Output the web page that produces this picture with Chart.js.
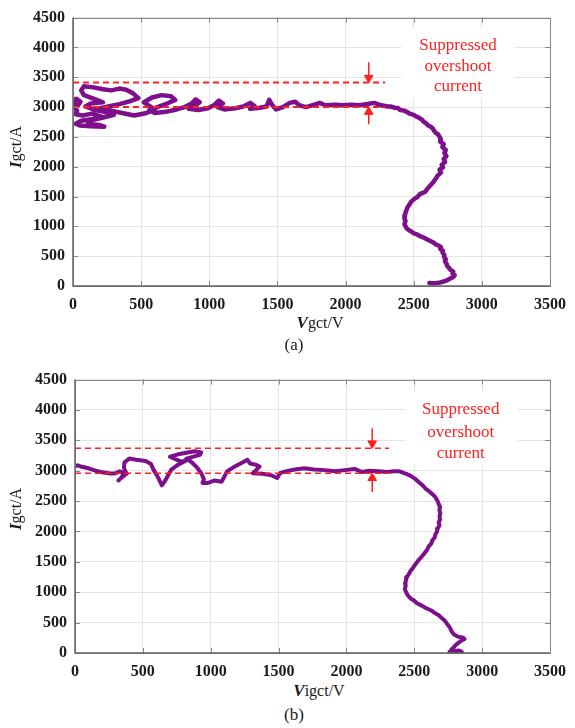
<!DOCTYPE html>
<html>
<head>
<meta charset="utf-8">
<script src="https://cdn.jsdelivr.net/npm/chart.js@4.4.1/dist/chart.umd.min.js"></script>
<style>
  body { margin: 0; background: #fff; }
  #wrap { position: relative; width: 575px; height: 728px; overflow: hidden; font-family: 'Liberation Serif', 'Times New Roman', serif; color: #1a1a1a; }
  canvas { position: absolute; left: 0; }
  .t { position: absolute; transform: translate(-50%, -50%); white-space: nowrap; font-size: 16px; }
  .t b { font-style: italic; font-size: 17px; }
  .rot { transform: translate(-50%, -50%) rotate(-90deg); }
  .cap { font-size: 17px; }
</style>
</head>
<body>
<div id="wrap">
  <canvas id="chartA" width="575" height="315" style="top:0"></canvas>
  <canvas id="chartB" width="575" height="315" style="top:362px"></canvas>

  <div class="t rot" style="left:16px;top:147px"><b>I</b>gct/A</div>
  <div class="t" style="left:320px;top:323px"><b>V</b>gct/V</div>
  <div class="t cap" style="left:294px;top:345px">(a)</div>

  <div class="t rot" style="left:16px;top:509px"><b>I</b>gct/A</div>
  <div class="t" style="left:319px;top:691px"><b>V</b>igct/V</div>
  <div class="t cap" style="left:294px;top:715px">(b)</div>
</div>

<script>
// axis ticks
const vTicks = [0, 500, 1000, 1500, 2000, 2500, 3000, 3500];
const iTicks = [0, 500, 1000, 1500, 2000, 2500, 3000, 3500, 4000, 4500];

// (a) trajectory
const aV = [15, 5, 25, 55, 35, 10, 30, 20, 70, 140, 210, 150, 60, 20, 50, 130, 230, 190, 110, 140,
  230, 300, 230, 150, 90, 130, 220, 150, 80, 60, 80, 150, 220, 280, 340, 390, 440, 480, 420, 340,
  260, 200, 280, 360, 450, 540, 600, 560, 520, 580, 650, 720, 750, 690, 620, 560, 600, 680, 760, 820,
  870, 900, 930, 880, 850, 920, 990, 1040, 1070, 1100, 1060, 1110, 1190, 1250, 1300, 1330, 1300, 1370, 1420, 1440,
  1460, 1490, 1540, 1590, 1630, 1660, 1710, 1770, 1810, 1850, 1920, 1980, 2040, 2100, 2160, 2210, 2260, 2310,
  2330, 2360, 2385, 2400, 2430, 2450, 2470, 2500, 2520, 2540,
  2560, 2575, 2590, 2600, 2625, 2640, 2650, 2660, 2680, 2690,
  2700, 2695, 2720, 2710, 2735, 2725, 2740, 2720, 2730, 2705,
  2715, 2690, 2700, 2675, 2665, 2650, 2635, 2615, 2600, 2585,
  2545, 2530, 2505, 2480, 2470, 2455, 2448, 2440, 2436, 2432,
  2440, 2432, 2440, 2450, 2470, 2492, 2505, 2528, 2550, 2575,
  2600, 2618, 2645, 2660, 2680, 2700, 2695, 2715, 2712, 2725,
  2722, 2735, 2730, 2742, 2745, 2760, 2770, 2790, 2785, 2800,
  2790, 2765, 2745, 2725, 2710, 2695, 2680, 2660, 2640, 2625, 2615];
const aI = [3060, 3110, 3140, 3090, 3020, 2990, 2940, 2880, 2860, 2890, 2840, 2800, 2770, 2720, 2690, 2680, 2670, 2700, 2720, 2780,
  2830, 2870, 2920, 2960, 3010, 3060, 3080, 3140, 3200, 3280, 3350, 3330, 3300, 3280, 3310, 3290, 3230, 3150, 3100, 3050,
  3010, 2980, 2940, 2900, 2860, 2900, 2960, 3020, 3080, 3160, 3200, 3180, 3120, 3060, 3000, 2950, 2900, 2920, 2960, 3000,
  3060, 3130, 3080, 3010, 2970, 2950, 2980, 3040, 3110, 3060, 3000, 2960, 2980, 3010, 3070, 3020, 2970, 2990, 3010, 3120,
  3040, 2960, 3000, 3070, 3090, 3030, 3000, 3040, 3070, 3030, 3040, 3030, 3040, 3030, 3050, 3070, 3030, 3010,
  3010, 2990, 2985, 2950, 2940, 2920, 2890, 2870, 2840, 2820,
  2790, 2750, 2730, 2700, 2670, 2640, 2600, 2570, 2540, 2500,
  2460, 2420, 2380, 2330, 2280, 2230, 2180, 2130, 2080, 2030,
  1990, 1950, 1900, 1850, 1810, 1760, 1720, 1670, 1630, 1580,
  1540, 1500, 1460, 1410, 1370, 1320, 1280, 1230, 1180, 1130,
  1090, 1040, 1000, 960, 930, 900, 880, 860, 830, 810,
  780, 760, 730, 700, 680, 650, 620, 590, 560, 520,
  490, 450, 410, 370, 340, 300, 270, 240, 210, 180,
  150, 120, 95, 80, 70, 60, 55, 50, 48, 50, 52];

// (b) trajectory
const bV = [0, 20, 50, 100, 150, 200, 260, 300, 330, 360, 340, 320, 350, 380, 360, 365, 400, 450, 520, 560,
  580, 610, 640, 660, 680, 710, 760, 820, 780, 700, 760, 880, 930, 920, 820, 860, 900, 930, 950, 940,
  980, 1030, 1080, 1100, 1120, 1170, 1220, 1270, 1290, 1330, 1360, 1330, 1310, 1380, 1440, 1490, 1510, 1550, 1620, 1690,
  1760, 1840, 1920, 1990, 2060, 2110, 2170, 2240, 2300, 2350,
  2390, 2410, 2440, 2470, 2490, 2510, 2530, 2550, 2570, 2585,
  2610, 2630, 2650, 2662, 2672, 2680, 2690, 2685, 2692, 2686,
  2690, 2680, 2685, 2672, 2668, 2655, 2650, 2632, 2625, 2605,
  2595, 2578, 2560, 2540, 2522, 2505, 2490, 2472, 2460, 2445,
  2440, 2432, 2436, 2430, 2440, 2452, 2472, 2500, 2520, 2555,
  2585, 2625, 2650, 2680, 2700, 2722, 2735, 2748, 2762, 2770,
  2780, 2795, 2820, 2860, 2870, 2845, 2820, 2800, 2790, 2775,
  2770, 2800, 2850, 2830, 2760];
const bI = [3070, 3090, 3065, 3040, 3000, 2975, 2955, 2960, 2990, 2960, 2880, 2840, 2900, 2950, 3050, 3140, 3200, 3180, 3160, 3110,
  3010, 2900, 2760, 2820, 2900, 3020, 3100, 3170, 3150, 3230, 3270, 3320, 3300, 3260, 3200, 3140, 3050, 2960, 2860, 2800,
  2800, 2840, 2820, 2900, 2990, 3060, 3120, 3180, 3120, 3100, 3070, 3000, 2960, 2950, 2930, 2880, 2960, 2990, 3020, 3040,
  3020, 3010, 2990, 3010, 3030, 2980, 3000, 2990, 2980, 2990,
  2990, 2975, 2950, 2920, 2890, 2860, 2820, 2780, 2740, 2700,
  2660, 2620, 2580, 2540, 2500, 2450, 2400, 2350, 2300, 2250,
  2200, 2150, 2100, 2050, 2000, 1950, 1900, 1850, 1800, 1750,
  1700, 1650, 1600, 1550, 1500, 1450, 1400, 1350, 1300, 1250,
  1200, 1150, 1100, 1050, 1000, 950, 900, 860, 820, 780,
  740, 700, 660, 620, 580, 540, 500, 460, 420, 380,
  340, 300, 270, 250, 230, 200, 160, 120, 90, 60,
  30, 15, 20, 40, 20];

// annotation levels: peak and suppressed current, arrow position
const aPeak = 3410, aFlat = 3000, aDashEnd = 2290, aArrowV = 2170, aArrowTop = 3750, aArrowBottom = 2710;
const bPeak = 3370, bFlat = 2960, bDashEnd = 2315, bArrowV = 2190, bArrowTop = 3700, bArrowBottom = 2650;
const noteText = ['Suppressed', 'overshoot', 'current'];

const PURPLE = '#7d0f8c';
const RED = '#ff1f1f';
const FONT = '"Liberation Serif", "Times New Roman", serif';

function pts(xs, ys) { return xs.map((v, i) => ({ x: v, y: ys[i] })); }

const boxTicks = {
  id: 'boxTicks',
  afterDraw(chart) {
    const { ctx, chartArea: a, scales: { x, y } } = chart;
    ctx.save();
    ctx.strokeStyle = '#888';
    ctx.lineWidth = 1;
    ctx.beginPath();
    x.ticks.forEach(t => {
      const p = Math.round(x.getPixelForValue(t.value)) + 0.5;
      ctx.moveTo(p, a.bottom); ctx.lineTo(p, a.bottom - 5);
      ctx.moveTo(p, a.top); ctx.lineTo(p, a.top + 5);
    });
    y.ticks.forEach(t => {
      const p = Math.round(y.getPixelForValue(t.value)) + 0.5;
      ctx.moveTo(a.left, p); ctx.lineTo(a.left + 5, p);
      ctx.moveTo(a.right, p); ctx.lineTo(a.right - 5, p);
    });
    ctx.stroke();
    ctx.strokeRect(Math.round(a.left) + 0.5, Math.round(a.top) + 0.5, Math.round(a.width), Math.round(a.height));
    ctx.strokeStyle = '#666';
    ctx.lineWidth = 1.5;
    ctx.beginPath();
    ctx.moveTo(a.left, a.top); ctx.lineTo(a.left, a.bottom); ctx.lineTo(a.right, a.bottom);
    ctx.stroke();
    ctx.restore();
  }
};

const note = {
  id: 'note',
  beforeDatasetsDraw(chart, args, o) {
    const { ctx, scales: { x, y } } = chart;
    ctx.save();
    ctx.fillStyle = '#fff';
    const x0 = x.getPixelForValue(o.box[0]), x1 = x.getPixelForValue(o.box[1]);
    const y0 = y.getPixelForValue(o.box[2]), y1 = y.getPixelForValue(o.box[3]);
    ctx.fillRect(x0, y0, x1 - x0, y1 - y0);
    ctx.fillStyle = RED;
    ctx.font = '17px ' + FONT;
    ctx.textAlign = 'center';
    ctx.textBaseline = 'middle';
    noteText.forEach((s, i) => ctx.fillText(s, x.getPixelForValue(o.cx), y.getPixelForValue(o.rows[i])));
    ctx.restore();
  }
};

function makeChart(id, c) {
  const tickFont = { family: FONT, size: 16, weight: 'bold' };
  new Chart(document.getElementById(id), {
    type: 'scatter',
    data: {
      datasets: [
        { data: [{ x: c.arrowV, y: c.peak + c.head }], pointStyle: 'triangle', rotation: 180, pointRadius: 5,
          backgroundColor: RED, borderColor: RED, borderWidth: 1 },
        { data: [{ x: c.arrowV, y: c.flat - c.head }], pointStyle: 'triangle', rotation: 0, pointRadius: 5,
          backgroundColor: RED, borderColor: RED, borderWidth: 1 },
        { data: [{ x: c.arrowV, y: c.arrowTop }, { x: c.arrowV, y: c.peak + c.head }], showLine: true,
          pointRadius: 0, borderColor: RED, borderWidth: 1.5 },
        { data: [{ x: c.arrowV, y: c.arrowBottom }, { x: c.arrowV, y: c.flat - c.head }], showLine: true,
          pointRadius: 0, borderColor: RED, borderWidth: 1.5 },
        { data: [{ x: 0, y: c.peak }, { x: c.dashEnd, y: c.peak }], showLine: true, pointRadius: 0,
          borderColor: RED, borderWidth: c.dashW, borderDash: [6, 4] },
        { data: [{ x: 0, y: c.flat }, { x: c.dashEnd, y: c.flat }], showLine: true, pointRadius: 0,
          borderColor: RED, borderWidth: c.dashW, borderDash: [6, 4] },
        { data: pts(c.v, c.i), showLine: true, pointRadius: 0, borderColor: PURPLE,
          borderWidth: c.lineW, borderJoinStyle: 'round', borderCapStyle: 'round' }
      ]
    },
    options: {
      responsive: false,
      animation: false,
      layout: { padding: { top: c.top, right: c.right, left: 0, bottom: 0 } },
      plugins: {
        legend: { display: false },
        tooltip: { enabled: false },
        note: { cx: c.noteX, rows: c.noteRows, box: c.noteBox }
      },
      scales: {
        x: {
          type: 'linear', min: 0, max: 3500,
          afterBuildTicks: s => { s.ticks = vTicks.map(v => ({ value: v })); },
          afterFit: s => { s.height = c.xH; },
          grid: { color: '#e4e4e4', drawTicks: false },
          border: { display: false },
          ticks: { font: tickFont, color: '#1a1a1a', padding: 9, maxRotation: 0, callback: v => String(v) }
        },
        y: {
          type: 'linear', min: 0, max: 4500,
          afterBuildTicks: s => { s.ticks = iTicks.map(v => ({ value: v })); },
          afterFit: s => { s.width = c.yW; },
          grid: { color: '#e4e4e4', drawTicks: false },
          border: { display: false },
          ticks: { font: tickFont, color: '#1a1a1a', padding: 8, callback: v => String(v) }
        }
      }
    },
    plugins: [note, boxTicks]
  });
}

function drawAll() {
  makeChart('chartA', {
    v: aV, i: aI, lineW: 4.5, dashW: 2, top: 9, right: 20, xH: 29, yW: 73,
    peak: aPeak, flat: aFlat, dashEnd: aDashEnd, arrowV: aArrowV, arrowTop: aArrowTop, arrowBottom: aArrowBottom, head: 80,
    noteX: 2825, noteRows: [4040, 3685, 3345], noteBox: [2410, 3240, 4320, 3150]
  });
  makeChart('chartB', {
    v: bV, i: bI, lineW: 4, dashW: 1.5, top: 10, right: 16, xH: 24, yW: 75,
    peak: bPeak, flat: bFlat, dashEnd: bDashEnd, arrowV: bArrowV, arrowTop: bArrowTop, arrowBottom: bArrowBottom, head: 80,
    noteX: 2842, noteRows: [4004, 3635, 3283], noteBox: [2435, 3260, 4290, 3090]
  });
}

Promise.all([
  document.fonts.load('bold 16px "Liberation Serif"'),
  document.fonts.load('17px "Liberation Serif"')
]).then(drawAll, drawAll);
</script>
</body>
</html>
